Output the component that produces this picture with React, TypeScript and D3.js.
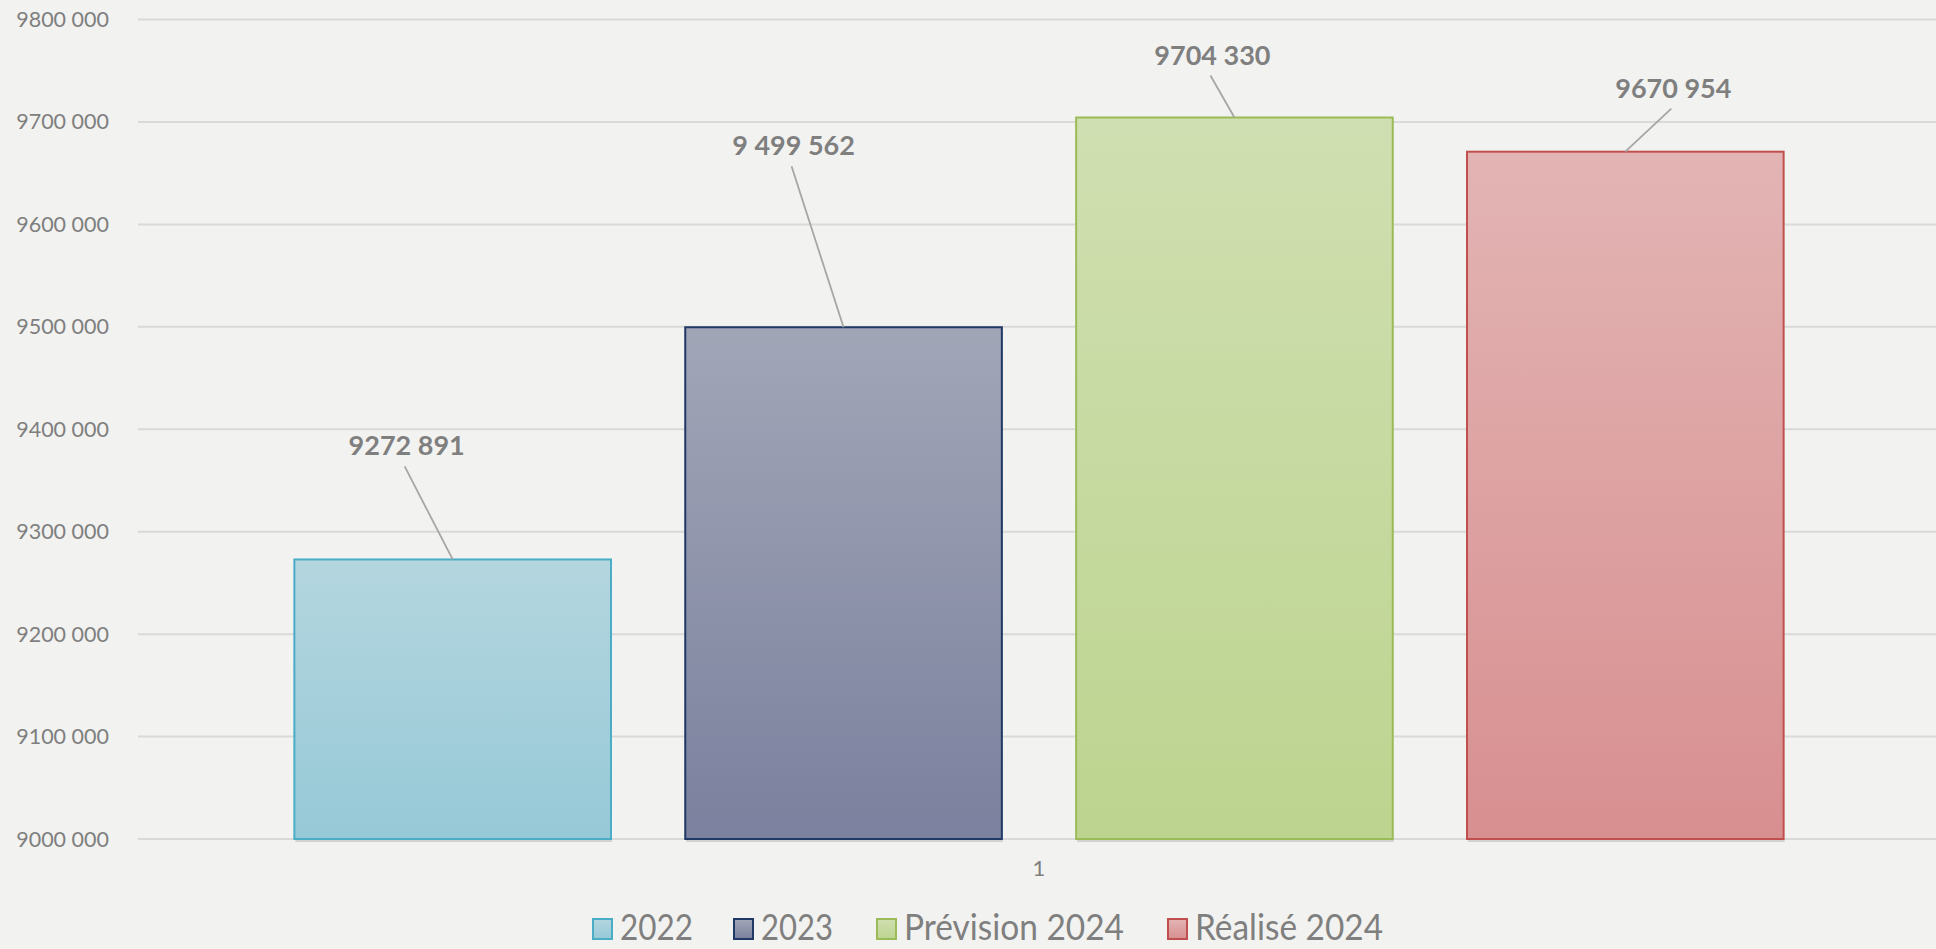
import { useEffect, useRef } from 'react';
import * as d3 from 'd3';

const categories = ['1'];
const series = ['2022', '2023', 'Prévision 2024', 'Réalisé 2024'];
const values = [9272891, 9499562, 9704330, 9670954];
const valueLabels = ['9272 891', '9 499 562', '9704 330', '9670 954'];
const yTicks = [9000000, 9100000, 9200000, 9300000, 9400000, 9500000, 9600000, 9700000, 9800000];
const yTickLabels = ['9000 000', '9100 000', '9200 000', '9300 000', '9400 000', '9500 000', '9600 000', '9700 000', '9800 000'];

// style per series
const topColors = ['#b4d6df', '#a1a6b7', '#d0dfb1', '#e3b4b4'];
const bottomColors = ['#96c9d7', '#7b819e', '#bcd48f', '#d88f90'];
const strokeColors = ['#4bacc6', '#1f3864', '#9bbb59', '#c0504d'];
// manual label placement (offset from top centre of bar), as in the source
const labelOffsets = [
  [-46, -104],
  [-50, -172],
  [-22, -53],
  [48, -54],
];
// legend layout: box x, text width
const legendBoxX = [592, 733, 876, 1167];
const legendTextW = [73, 72, 220, 188];

const W = 1936;
const H = 949;
const plot = { left: 138, right: 1940, top: 19.5, bottom: 839 };
const BG = '#f2f2f0';
const GRID = '#d9d9d9';
const TEXT = '#7f7f7f';

export default function App() {
  const svgRef = useRef<SVGSVGElement>(null);

  useEffect(() => {
    if (!svgRef.current) return;
    document.body.style.margin = '0';
    const svg = d3.select(svgRef.current);
    svg.selectAll('*').remove();
    svg.attr('width', W).attr('height', H);

    svg.append('rect').attr('width', W).attr('height', H).attr('fill', BG);

    const defs = svg.append('defs');
    series.forEach((_, i) => {
      const grad = defs
        .append('linearGradient')
        .attr('id', `grad${i}`)
        .attr('x1', 0)
        .attr('y1', 0)
        .attr('x2', 0)
        .attr('y2', 1);
      grad.append('stop').attr('offset', '0%').attr('stop-color', topColors[i]);
      grad.append('stop').attr('offset', '100%').attr('stop-color', bottomColors[i]);
    });

    const y = d3.scaleLinear().domain([9000000, 9800000]).range([plot.bottom, plot.top]);
    const x0 = d3
      .scaleBand()
      .domain(categories)
      .range([plot.left, plot.right])
      .paddingInner(0)
      .paddingOuter(0.105);
    const x1 = d3.scaleBand().domain(series).range([0, x0.bandwidth()]).paddingInner(0.19).paddingOuter(0);

    // gridlines
    svg
      .append('g')
      .selectAll('line')
      .data(yTicks)
      .join('line')
      .attr('x1', plot.left)
      .attr('x2', W)
      .attr('y1', (d) => y(d))
      .attr('y2', (d) => y(d))
      .attr('stroke', GRID)
      .attr('stroke-width', 2);

    // y labels
    svg
      .append('g')
      .selectAll('text')
      .data(yTicks)
      .join('text')
      .attr('x', 109)
      .attr('y', (d) => y(d))
      .attr('dy', '0.35em')
      .attr('text-anchor', 'end')
      .attr('font-family', 'Lato, sans-serif')
      .attr('font-size', 21.5)
      .attr('fill', TEXT)
      .text((_, i) => yTickLabels[i]);

    // x tick label
    svg
      .append('g')
      .selectAll('text')
      .data(categories)
      .join('text')
      .attr('x', (d) => (x0(d) ?? 0) + x0.bandwidth() / 2)
      .attr('y', 868)
      .attr('dy', '0.35em')
      .attr('text-anchor', 'middle')
      .attr('font-family', 'Lato, sans-serif')
      .attr('font-size', 22)
      .attr('fill', TEXT)
      .text((d) => d);

    const gx = x0(categories[0]) ?? 0;
    const bars = series.map((s, i) => ({ s, i, v: values[i] }));

    // bar shadow
    svg
      .append('g')
      .selectAll('rect')
      .data(bars)
      .join('rect')
      .attr('x', (d) => gx + (x1(d.s) ?? 0) + 1)
      .attr('y', plot.bottom)
      .attr('width', x1.bandwidth())
      .attr('height', 3)
      .attr('fill', '#d2d2d2');

    svg
      .append('g')
      .selectAll('rect')
      .data(bars)
      .join('rect')
      .attr('x', (d) => gx + (x1(d.s) ?? 0))
      .attr('y', (d) => y(d.v))
      .attr('width', x1.bandwidth())
      .attr('height', (d) => plot.bottom - y(d.v))
      .attr('fill', (d) => `url(#grad${d.i})`)
      .attr('stroke', (d) => strokeColors[d.i])
      .attr('stroke-width', 2);

    // data labels with leader lines
    const lg = svg.append('g');
    bars.forEach((d) => {
      const cx = gx + (x1(d.s) ?? 0) + x1.bandwidth() / 2;
      const ty = y(d.v);
      const lx = cx + labelOffsets[d.i][0];
      const ly = ty + labelOffsets[d.i][1];
      lg.append('line')
        .attr('x1', lx - 2)
        .attr('y1', ly + 11)
        .attr('x2', cx)
        .attr('y2', ty)
        .attr('stroke', '#a6a6a6')
        .attr('stroke-width', 1.8);
      lg.append('text')
        .attr('x', lx)
        .attr('y', ly)
        .attr('text-anchor', 'middle')
        .attr('font-family', 'Lato, sans-serif')
        .attr('font-weight', 700)
        .attr('font-size', 27)
        .attr('fill', TEXT)
        .text(valueLabels[d.i]);
    });

    // legend
    const leg = svg.append('g');
    series.forEach((s, i) => {
      leg
        .append('rect')
        .attr('x', legendBoxX[i] + 1)
        .attr('y', 919)
        .attr('width', 19)
        .attr('height', 20)
        .attr('fill', `url(#grad${i})`)
        .attr('stroke', strokeColors[i])
        .attr('stroke-width', 2);
      leg
        .append('text')
        .attr('x', legendBoxX[i] + 28)
        .attr('y', 940)
        .attr('font-family', 'Lato, sans-serif')
        .attr('font-size', 36)
        .attr('fill', TEXT)
        .attr('textLength', legendTextW[i])
        .attr('lengthAdjust', 'spacingAndGlyphs')
        .text(s);
    });
  }, []);

  return <svg ref={svgRef} style={{ position: 'absolute', left: 0, top: 0, display: 'block' }} />;
}
